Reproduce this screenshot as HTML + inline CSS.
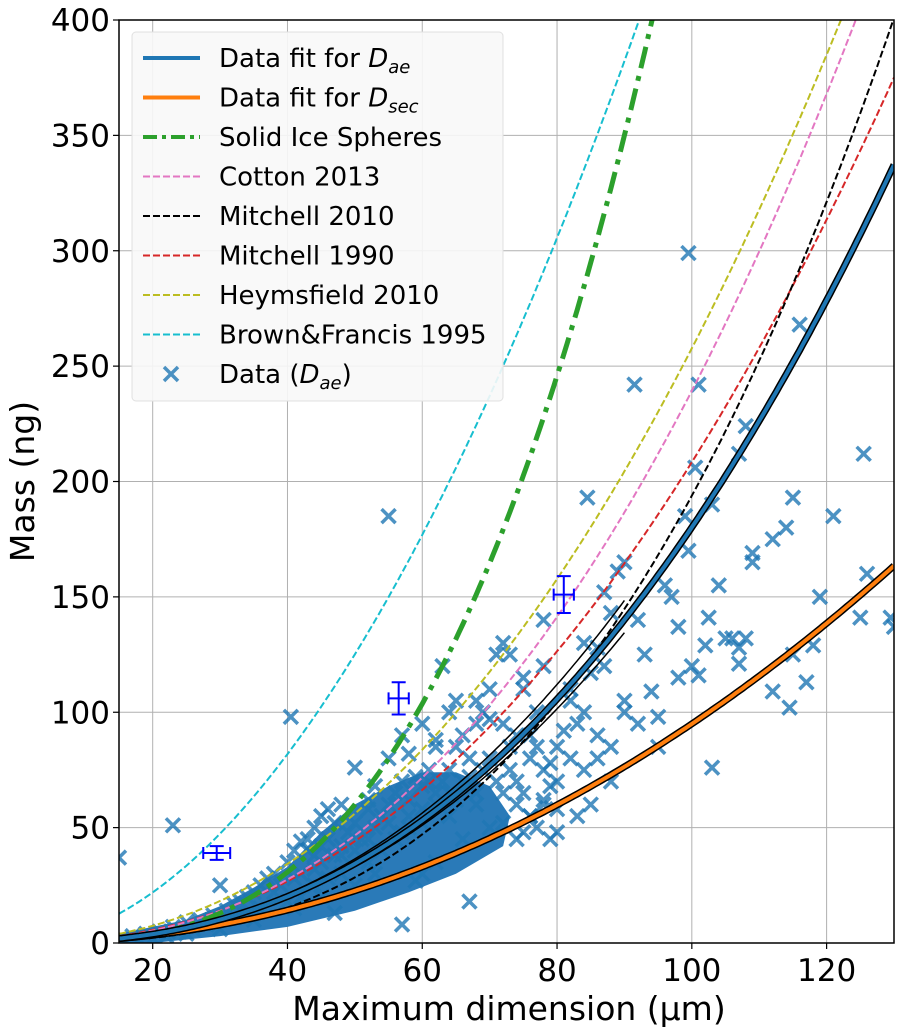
<!DOCTYPE html>
<html><head><meta charset="utf-8"><style>
body{margin:0;background:#fff;}
svg{display:block;font-family:"DejaVu Sans","Liberation Sans",sans-serif;}
</style></head><body>
<svg id="chart" width="904" height="1035"></svg>
<script>
const xTicks=[20,40,60,80,100,120];
const yTicks=[0,50,100,150,200,250,300,350,400];
const fitDae=[0.00299,2.39];
const fitDsec=[0.00688,2.07];
const ref_cotton=[0.00456,2.36];
const ref_mitchell2010=[0.000559,2.77];
const ref_mitchell1990=[0.00690,2.24];
const ref_heymsfield=[0.01026,2.2];
const ref_brown=[0.0740,1.9];
const sphereCoef=[0.0004801,3];
const errX=[29.5,56.5,81];
const errY=[39,106,151];
const errXe=[2,1.5,1.5];
const errYe=[3,7,8];
const denseUpper=[[15,4],[25,10],[30,16],[35,24],[40,33],[45,48],[50,60],[55,68],[60,74],[65,74],[70,68],[73,55]];
const denseLower=[[72,42],[65,30],[58,22],[50,14],[40,7],[30,3],[20,0],[15,0]];
const dataX=[15,23,40.5,55,99.5,91.5,101,116,125.5,121,115,114,112,108,107,103,100.5,99,99.5,84.5,93,94,95,96,97,98,100,101,102,102.5,103,104,105,106,107,107,108,109,109,112,114.5,115,117,118,119,125,126,129.5,130,89,90,88,87,86,85,84,83,82,81,80,79,78,77,76,75,74,73,72,71,70,69,68,67,66,65,64,63,62,61,67,57,47,41,59,60,62,45,50,53,35,30,25,20,86,85,88,83,80,78,76,74,72,70,68,66,64,62,60,58,56,54,52,50,48,46,44,42,40,38,36,34,32,30,28,26,24,22,18,16,55,56,57,58,59,60,61,62,63,64,65,58,60,57,54,53,52,51,50,49,48,47,46,45,44,43,42,41,40,39,38,37,36,35,34,33,32,31,29,27,25,23,21,19,17,66,67,68,69,70,71,72,73,74,75,76,77,78,79,80,82,84,86,88,90,92,45,44,43,42,41,46,47,48,50,52,53,55,57,60,64,58,62,65,45,48,52,55,44,82,84,87,90,92,95,98,78,75,73,70,68,74,76,78,80,77,75,72,79];
const dataY=[37,51,98,185,299,242,242,268,212,185,193,180,175,224,212,190,206,185,170,193,125,109,98,155,150,137,120,116,129,141,76,155,132,132,128,121,132,165,169,109,102,125,113,129,150,141,160,141,137,161,165,143,152,128,117,100,95,105,92,85,78,120,100,80,115,90,85,130,125,110,100,95,80,90,105,75,120,85,70,18,8,13,15,27,30,35,20,25,30,10,6,4,2,80,60,70,55,48,60,55,45,65,50,60,45,55,65,58,50,45,40,35,40,30,28,25,20,18,22,15,13,12,25,8,6,5,3,1.5,1,60,65,70,62,72,68,75,60,70,65,62,55,52,48,55,50,58,45,52,48,42,38,45,35,32,40,30,28,35,25,30,28,25,22,20,18,17,14,12,10,9,7,5,4,3,70,72,65,75,80,70,95,75,70,65,90,85,75,68,70,80,75,90,85,100,95,55,50,45,44,40,58,52,60,76,62,68,80,90,95,100,82,88,85,42,38,45,52,38,110,130,120,105,140,85,115,140,110,125,97,105,60,55,62,58,50,48,52,45];

const svg=document.getElementById('chart');
const NS='http://www.w3.org/2000/svg';
const L=119,R=894,T=20,B=943,X0=15,X1=130,Y0=0,Y1=400;
const sx=v=>L+(v-X0)/(X1-X0)*(R-L);
const sy=v=>B-(v-Y0)/(Y1-Y0)*(B-T);
function mk(tag,attrs,parent){const e=document.createElementNS(NS,tag);for(const k in attrs)e.setAttribute(k,attrs[k]);(parent||svg).appendChild(e);return e;}
const defs=mk('defs',{});const cp=mk('clipPath',{id:'clip'},defs);mk('rect',{x:L,y:T,width:R-L,height:B-T},cp);

xTicks.forEach(t=>{const g=mk('line',{x1:sx(t),x2:sx(t),y1:T,y2:B,stroke:'#b0b0b0','stroke-width':1});

});
yTicks.forEach(t=>{const g=mk('line',{x1:L,x2:R,y1:sy(t),y2:sy(t),stroke:'#b0b0b0','stroke-width':1});

});

const plot=mk('g',{'clip-path':'url(#clip)'});



const poly=denseUpper.concat(denseLower).map(p=>sx(p[0])+','+sy(p[1])).join(' ');
const dr=mk('polygon',{points:poly,fill:'#2a7ab8'},plot);



dataX.forEach((x,i)=>{const cx=sx(x),cy=sy(dataY[i]),s=7;
const p=mk('path',{d:`M${cx-s},${cy-s}L${cx+s},${cy+s}M${cx-s},${cy+s}L${cx+s},${cy-s}`,stroke:'#1f77b4','stroke-opacity':0.8,'stroke-width':3.5},plot);

});

function curve(c,scale,xmax){let d='';for(let x=X0;x<=(xmax||X1);x+=0.5){const y=c[0]*Math.pow(x,c[1])*(scale||1);d+=(d?'L':'M')+sx(x).toFixed(1)+','+sy(Math.min(y,450)).toFixed(1);}return d;}
function addCurve(c,attrs,name,scale,xmax){const p=mk('path',Object.assign({d:curve(c,scale,xmax),fill:'none'},attrs),plot);

}

addCurve(ref_brown,{stroke:'#17becf','stroke-width':2,'stroke-dasharray':'7,3'},'brown-francis-1995-line');
addCurve(ref_heymsfield,{stroke:'#bcbd22','stroke-width':2,'stroke-dasharray':'7,3'},'heymsfield-2010-line');
addCurve(ref_mitchell1990,{stroke:'#d62728','stroke-width':2,'stroke-dasharray':'7,3'},'mitchell-1990-line');
addCurve(ref_mitchell2010,{stroke:'#000','stroke-width':2,'stroke-dasharray':'7,3'},'mitchell-2010-line');
addCurve(ref_cotton,{stroke:'#e377c2','stroke-width':2,'stroke-dasharray':'7,3'},'cotton-2013-line');
addCurve(sphereCoef,{stroke:'#2ca02c','stroke-width':5,'stroke-dasharray':'22,8,5,8'},'solid-ice-spheres-line');
addCurve(fitDae,{stroke:'#000','stroke-width':1.5},'dae-fit-upper-bound',1.06,90);
addCurve(fitDae,{stroke:'#000','stroke-width':1.5},'dae-fit-lower-bound',0.96,90);
addCurve(fitDsec,{stroke:'#000','stroke-width':7},'dsec-fit-outline');
addCurve(fitDsec,{stroke:'#ff7f0e','stroke-width':4},'dsec-fit-line');
addCurve(fitDae,{stroke:'#000','stroke-width':7},'dae-fit-outline');
addCurve(fitDae,{stroke:'#1f77b4','stroke-width':4},'dae-fit-line');

errX.forEach((x,i)=>{const g=mk('g',{stroke:'#0000ff','stroke-width':2});


const cx=sx(x),cy=sy(errY[i]),x0=sx(x-errXe[i]),x1=sx(x+errXe[i]),y0=sy(errY[i]-errYe[i]),y1=sy(errY[i]+errYe[i]);
mk('path',{d:`M${x0},${cy}L${x1},${cy}M${cx},${y0}L${cx},${y1}M${x0},${cy-6}L${x0},${cy+6}M${x1},${cy-6}L${x1},${cy+6}M${cx-7},${y0}L${cx+7},${y0}M${cx-7},${y1}L${cx+7},${y1}`,fill:'none'},g);});

const fr=mk('rect',{x:L,y:T,width:R-L,height:B-T,fill:'none',stroke:'#000','stroke-width':1.5});



xTicks.forEach(t=>{mk('line',{x1:sx(t),x2:sx(t),y1:B,y2:B+6,stroke:'#000','stroke-width':1.2});
const tx=mk('text',{x:sx(t),y:B+38,'font-size':31,'text-anchor':'middle'});tx.textContent=t;

});
yTicks.forEach(t=>{mk('line',{x1:L-6,x2:L,y1:sy(t),y2:sy(t),stroke:'#000','stroke-width':1.2});
const tx=mk('text',{x:L-9,y:sy(t)+11,'font-size':31,'text-anchor':'end'});tx.textContent=t;

});

const xt=mk('text',{x:509,y:1020,'font-size':33,'text-anchor':'middle'});xt.textContent='Maximum dimension (μm)';


const yt=mk('text',{x:0,y:0,'font-size':33,'text-anchor':'middle',transform:`translate(34,${(T+B)/2}) rotate(-90)`});yt.textContent='Mass (ng)';



const lg=mk('g',{});


mk('rect',{x:132,y:32,width:371,height:369,rx:4,fill:'#f8f8f8','fill-opacity':0.9,stroke:'#e0e0e0'},lg);
const items=[
 ['Data fit for ','ae',{stroke:'#1f77b4','stroke-width':4}],
 ['Data fit for ','sec',{stroke:'#ff7f0e','stroke-width':4}],
 ['Solid Ice Spheres','',{stroke:'#2ca02c','stroke-width':4,'stroke-dasharray':'14,5,4,5'}],
 ['Cotton 2013','',{stroke:'#e377c2','stroke-width':2,'stroke-dasharray':'7,3'}],
 ['Mitchell 2010','',{stroke:'#000','stroke-width':2,'stroke-dasharray':'7,3'}],
 ['Mitchell 1990','',{stroke:'#d62728','stroke-width':2,'stroke-dasharray':'7,3'}],
 ['Heymsfield 2010','',{stroke:'#bcbd22','stroke-width':2,'stroke-dasharray':'7,3'}],
 ['Brown&Francis 1995','',{stroke:'#17becf','stroke-width':2,'stroke-dasharray':'7,3'}],
 ['Data (','ae2',null]];
items.forEach((it,i)=>{const y=58+i*39.5;
const g=mk('g',{},lg);


if(it[2])mk('line',Object.assign({x1:143,x2:200,y1:y,y2:y},it[2]),g);
else mk('path',{d:`M164,${y-7}L178,${y+7}M164,${y+7}L178,${y-7}`,stroke:'#1f77b4','stroke-opacity':0.8,'stroke-width':3.5},g);
const t=mk('text',{x:219,y:y+9,'font-size':26},g);
if(it[1]==='ae'||it[1]==='sec'){t.innerHTML=it[0]+'<tspan font-style="italic">D</tspan><tspan font-style="italic" font-size="18" dy="6">'+it[1]+'</tspan>';}
else if(it[1]==='ae2'){t.innerHTML='Data (<tspan font-style="italic">D</tspan><tspan font-style="italic" font-size="18" dy="6">ae</tspan><tspan dy="-6">)</tspan>';}
else t.textContent=it[0];});
</script>
</body></html>
